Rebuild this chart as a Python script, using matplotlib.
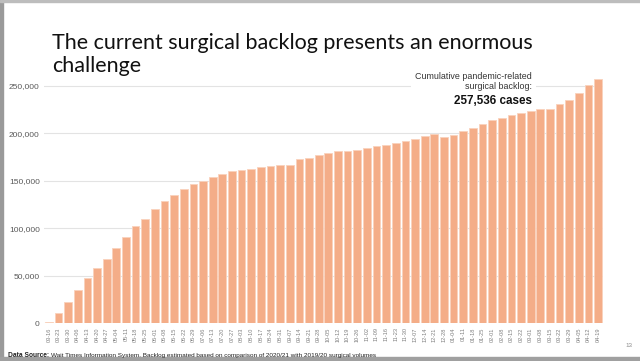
import matplotlib
matplotlib.use("Agg")
import matplotlib.pyplot as plt
from matplotlib.patches import Rectangle
import numpy as np

# week labels (2020-03-16 .. 2021-04-19)
weeks = ["03-16", "03-23", "03-30", "04-06", "04-13", "04-20", "04-27", "05-04",
         "05-11", "05-18", "05-25", "06-01", "06-08", "06-15", "06-22", "06-29",
         "07-06", "07-13", "07-20", "07-27", "08-03", "08-10", "08-17", "08-24",
         "08-31", "09-07", "09-14", "09-21", "09-28", "10-05", "10-12", "10-19",
         "10-26", "11-02", "11-09", "11-16", "11-23", "11-30", "12-07", "12-14",
         "12-21", "12-28", "01-04", "01-11", "01-18", "01-25", "02-01", "02-08",
         "02-15", "02-22", "03-01", "03-08", "03-15", "03-22", "03-29", "04-05",
         "04-12", "04-19"]

# cumulative backlog
backlog = [1000, 10500, 22800, 35100, 47400, 58600, 68100, 79000,
           91200, 102800, 109900, 120100, 128800, 135200, 141500, 146800,
           150000, 154500, 157600, 160400, 161500, 162500, 164300, 166000,
           167200, 167200, 172800, 174500, 177300, 179100, 181200, 181200,
           182900, 184700, 186800, 188200, 190000, 192100, 194200, 197300,
           199400, 196600, 198400, 202600, 206100, 210000, 213900, 216600,
           219100, 221600, 223700, 225800, 225800, 231000, 235300, 242300,
           251000, 257536]

yticks = [0, 50000, 100000, 150000, 200000, 250000]

fig = plt.figure(figsize=(6.4, 3.61), dpi=100)
fig.patch.set_facecolor("white")

# slide frame from the screenshot
fig.patches.append(Rectangle((0, 0), 0.005, 1, transform=fig.transFigure, color="#9a9a9a", zorder=0))
fig.patches.append(Rectangle((0, 0), 1, 0.012, transform=fig.transFigure, color="#a0a0a0", zorder=0))
fig.patches.append(Rectangle((0, 0.995), 1, 0.005, transform=fig.transFigure, color="#bdbdbd", zorder=0))

ax = fig.add_axes([44 / 640, 37.7 / 361, (603 - 44) / 640, (284.5 - 37.7) / 361])
x = np.arange(len(weeks))
ax.bar(x, backlog, width=0.8, color="#f4ad88", edgecolor="#f9d2bd", linewidth=0.6, zorder=2)

ax.set_xlim(-0.5, len(weeks) - 0.5)
ax.set_ylim(0, 260000)
ax.set_yticks(yticks)
ax.set_yticklabels([f"{v:,}" for v in yticks], fontsize=6.0, color="#595959", family="Liberation Sans")
ax.set_xticks(x)
ax.set_xticklabels(weeks, rotation=90, fontsize=4.1, color="#7f7f7f", family="Liberation Sans")
ax.tick_params(axis="both", length=0, pad=3)
ax.grid(axis="y", color="#e3e3e3", linewidth=0.8, zorder=0)
for s in ax.spines.values():
    s.set_visible(False)

# title, two lines drawn separately so line 2 does not box over the annotation
fig.text(52 / 640, 1 - 49 / 361, "The current surgical backlog presents an enormous",
         fontsize=15.5, family="Lato", color="#111111", va="baseline")
fig.text(52 / 640, 1 - 72 / 361, "challenge",
         fontsize=15.5, family="Lato", color="#111111", va="baseline")

# annotation
ax.text(0.873, 1.02, "Cumulative pandemic-related\nsurgical backlog:", transform=ax.transAxes,
        ha="right", va="top", fontsize=6.4, color="#333333", family="Liberation Sans",
        bbox=dict(facecolor="white", edgecolor="none", pad=3), zorder=3)
ax.text(0.873, 0.925, "257,536 cases", transform=ax.transAxes, ha="right", va="top",
        fontsize=8.4, fontweight="bold", color="#111111", family="Liberation Sans", zorder=3)

# source line: bold lead-in, then the rest placed right after it
fig.canvas.draw()
src = fig.text(8 / 640, 1 - 357 / 361, "Data Source: ", fontsize=4.8, fontweight="bold",
               family="Liberation Sans", color="#222222", va="baseline")
bb = src.get_window_extent(renderer=fig.canvas.get_renderer())
fig.text(bb.x1 / fig.bbox.width, 1 - 357 / 361,
         "Wait Times Information System. Backlog estimated based on comparison of 2020/21 with 2019/20 surgical volumes",
         fontsize=4.6, family="Liberation Sans", color="#222222", va="baseline")

fig.text(625 / 640, 1 - 347 / 361, "13", fontsize=4.5, color="#8c8c8c", family="Liberation Sans")

fig.savefig("out.png", dpi=100)
